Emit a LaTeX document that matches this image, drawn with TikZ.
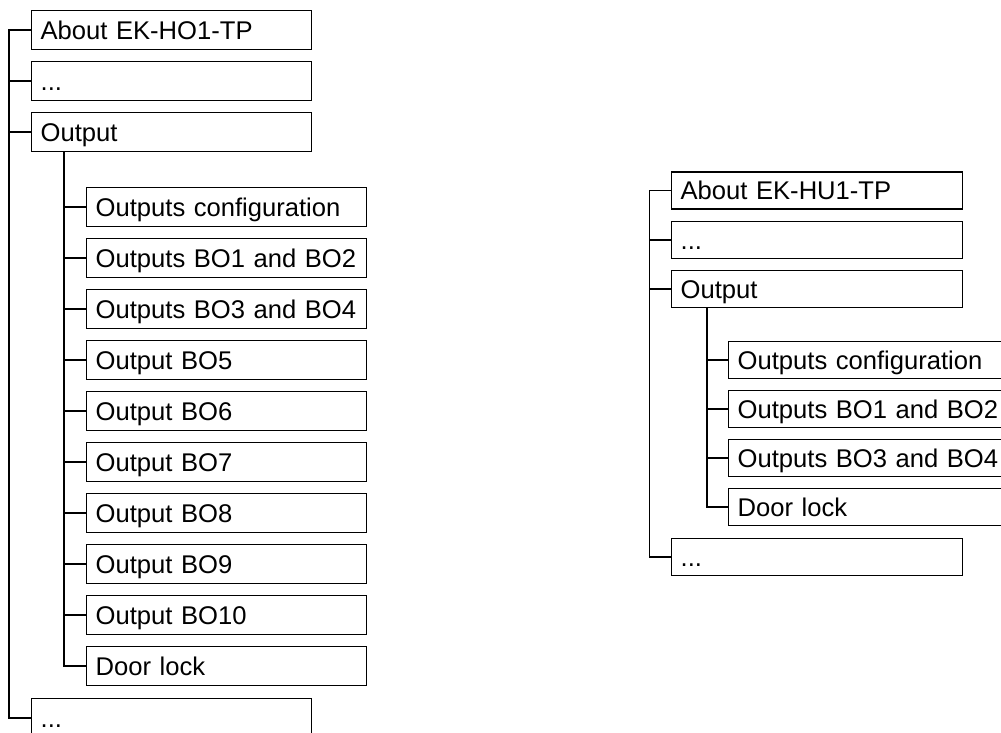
\documentclass[tikz,border=0pt]{standalone}
\usepackage{fontspec}
\setmainfont{Liberation Sans}
\usetikzlibrary{positioning}

\begin{document}
\begin{tikzpicture}[x=1pt, y=-1pt, line width=1.3pt,
  menubox/.style={draw, anchor=west, inner xsep=9pt, inner ysep=0pt, align=left,
                  text height=18.5pt, text depth=0pt, font=\fontsize{25.6}{30}\selectfont},
  lbox/.style={menubox, text width=262pt, minimum height=38.5pt},
  rbox/.style={menubox, text width=273pt, minimum height=37pt}]
  \useasboundingbox (0,0) rectangle (1001,733);
  % EK-HO1-TP menu tree
  \node[lbox] (hoabout) at (31,30) {About EK-HO1-TP};
  \node[lbox] (hodots) at (31,81) {...};
  \node[lbox] (hoout) at (31,132) {Output};
  \foreach \t [count=\i from 0] in {Outputs configuration, Outputs BO1 and BO2,
      Outputs BO3 and BO4, Output BO5, Output BO6, Output BO7, Output BO8,
      Output BO9, Output BO10, Door lock} {
    \node[lbox] (hoc\i) at (86,{207+51*\i}) {\mbox{\t}};
    \draw (hoc\i.west) -- ++(-22,0);
  }
  \node[lbox] (holast) at (31,718) {...};
  \draw (hoabout.west) -- ++(-22,0) |- (holast.west);
  \draw (hodots.west) -- ++(-22,0);
  \draw (hoout.west) -- ++(-22,0);
  \draw ([xshift=33pt]hoout.south west) |- (hoc9.west);
  % EK-HU1-TP menu tree
  \node[rbox] (huabout) at (671,190.5) {About EK-HU1-TP};
  \node[rbox] (hudots) at (671,240) {...};
  \node[rbox] (huout) at (671,289) {Output};
  \foreach \t [count=\i from 0] in {Outputs configuration, Outputs BO1 and BO2,
      Outputs BO3 and BO4, Door lock} {
    \node[rbox] (huc\i) at (728,{360+49*\i}) {\mbox{\t}};
    \draw (huc\i.west) -- ++(-21,0);
  }
  \node[rbox] (hulast) at (671,557) {...};
  \draw (huabout.west) -- ++(-21.5,0) |- (hulast.west);
  \draw (hudots.west) -- ++(-21.5,0);
  \draw (huout.west) -- ++(-21.5,0);
  \draw ([xshift=36pt]huout.south west) |- (huc3.west);
\end{tikzpicture}
\end{document}
